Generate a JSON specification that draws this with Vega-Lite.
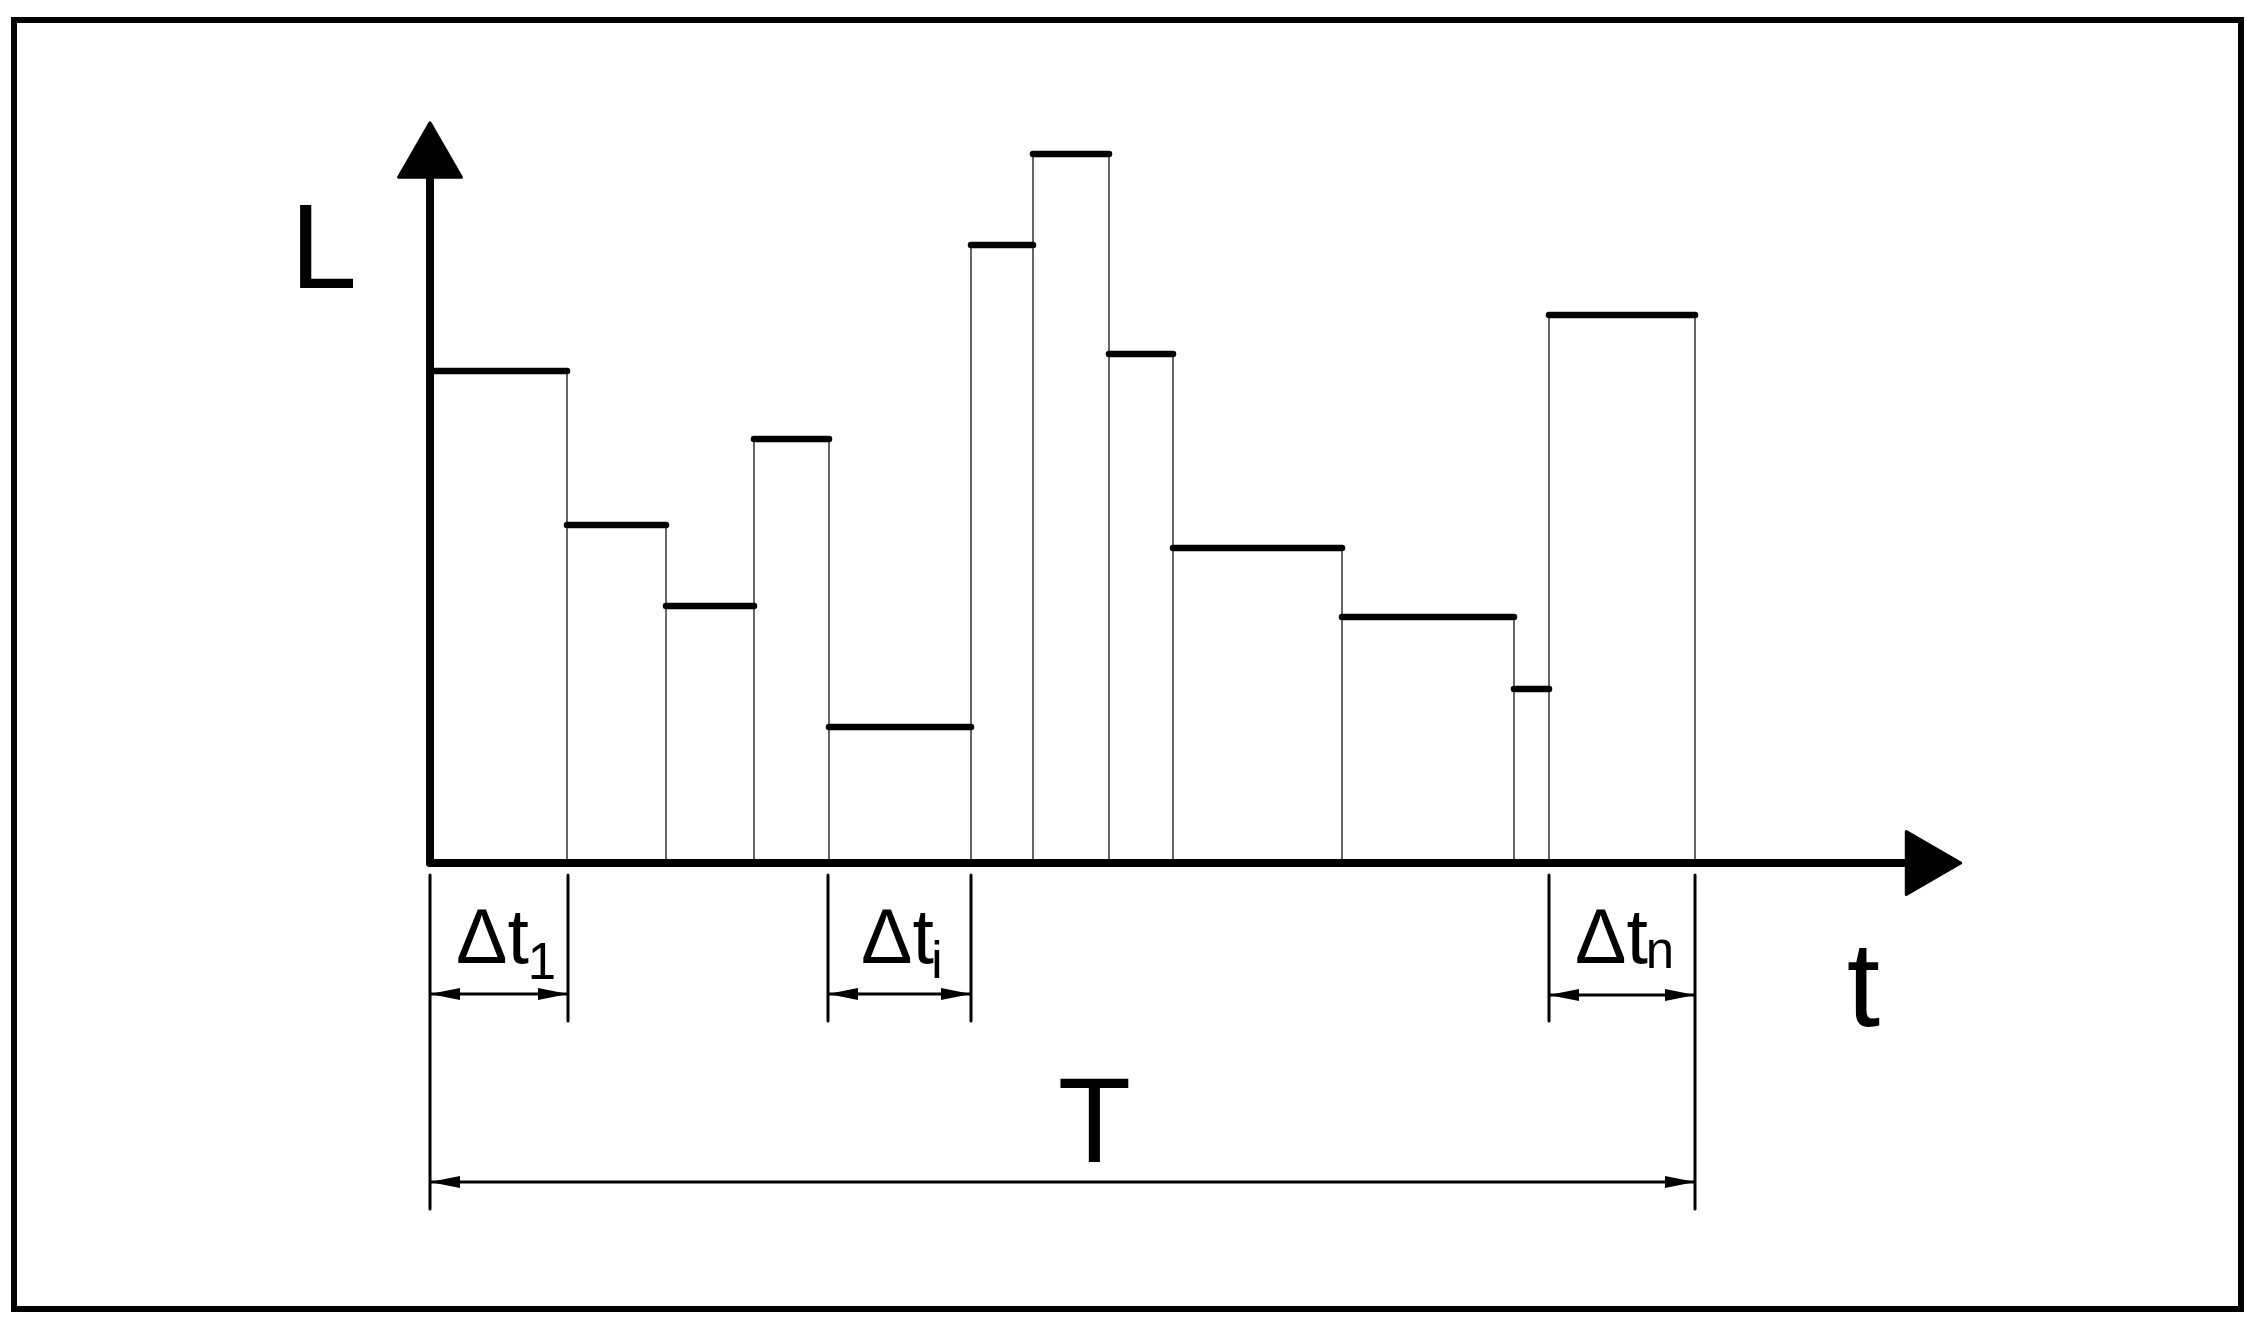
{
  "$schema": "https://vega.github.io/schema/vega-lite/v6.json",
  "width": 2256,
  "height": 1324,
  "autosize": {"type": "none"},
  "padding": 0,
  "background": "white",
  "config": {"view": {"stroke": null}},
  "datasets": {
    "frame": [{"t0": -41.6, "t1": 181.1, "L0": 84.3, "L1": -44.6}],
    "steps": [
      {"t0": 0, "t1": 13.7, "L": 49.2},
      {"t0": 13.7, "t1": 23.6, "L": 33.8},
      {"t0": 23.6, "t1": 32.4, "L": 25.7},
      {"t0": 32.4, "t1": 39.9, "L": 42.4},
      {"t0": 39.9, "t1": 54.1, "L": 13.6},
      {"t0": 54.1, "t1": 60.3, "L": 61.8},
      {"t0": 60.3, "t1": 67.9, "L": 70.9},
      {"t0": 67.9, "t1": 74.3, "L": 50.9},
      {"t0": 74.3, "t1": 91.2, "L": 31.5},
      {"t0": 91.2, "t1": 108.4, "L": 24.6},
      {"t0": 108.4, "t1": 111.9, "L": 17.4},
      {"t0": 111.9, "t1": 126.5, "L": 54.8}
    ],
    "bounds": [
      {"t": 13.7, "base": 0, "top": 49.2},
      {"t": 23.6, "base": 0, "top": 33.8},
      {"t": 32.4, "base": 0, "top": 42.4},
      {"t": 39.9, "base": 0, "top": 42.4},
      {"t": 54.1, "base": 0, "top": 61.8},
      {"t": 60.3, "base": 0, "top": 70.9},
      {"t": 67.9, "base": 0, "top": 70.9},
      {"t": 74.3, "base": 0, "top": 50.9},
      {"t": 91.2, "base": 0, "top": 31.5},
      {"t": 108.4, "base": 0, "top": 24.6},
      {"t": 111.9, "base": 0, "top": 54.8},
      {"t": 126.5, "base": 0, "top": 54.8}
    ],
    "axesV": [{"t": 0, "L0": 0, "L1": 68.4}],
    "axesH": [{"t0": 0, "t1": 147.4, "L": 0}],
    "axisArrowUp": [{"t": 0, "L": 71.3}],
    "axisArrowRight": [{"t": 150.35, "L": 0}],
    "ext": [
      {"t": 0, "L0": -1.2, "L1": -34.6},
      {"t": 13.8, "L0": -1.2, "L1": -15.8},
      {"t": 39.8, "L0": -1.2, "L1": -15.8},
      {"t": 54.1, "L0": -1.2, "L1": -15.8},
      {"t": 111.9, "L0": -1.2, "L1": -15.8},
      {"t": 126.5, "L0": -1.2, "L1": -34.6}
    ],
    "dims": [
      {"t0": 0, "t1": 13.8, "L": -13.1},
      {"t0": 39.8, "t1": 54.1, "L": -13.1},
      {"t0": 111.9, "t1": 126.5, "L": -13.2},
      {"t0": 0, "t1": 126.5, "L": -31.9}
    ],
    "tips": [
      {"t": 0, "L": -13.1, "ang": 0},
      {"t": 13.8, "L": -13.1, "ang": 180},
      {"t": 39.8, "L": -13.1, "ang": 0},
      {"t": 54.1, "L": -13.1, "ang": 180},
      {"t": 111.9, "L": -13.2, "ang": 0},
      {"t": 126.5, "L": -13.2, "ang": 180},
      {"t": 0, "L": -31.9, "ang": 0},
      {"t": 126.5, "L": -31.9, "ang": 180}
    ],
    "bigLabels": [
      {"t": -10.65, "L": 57.5, "label": "L"},
      {"t": 143.35, "L": -16.3, "label": "t"},
      {"t": 66.45, "L": -29.9, "label": "T"}
    ],
    "deltaLabels": [
      {"t": 2.6, "L": -10.0, "label": "Δt"},
      {"t": 43.1, "L": -10.0, "label": "Δt"},
      {"t": 114.5, "L": -10.0, "label": "Δt"}
    ],
    "subLabels": [
      {"t": 11.2, "L": -11.6, "label": "1"},
      {"t": 50.7, "L": -11.5, "label": "i"},
      {"t": 123.0, "L": -10.5, "label": "n"}
    ]
  },
  "layer": [
    {
      "data": {"name": "frame"},
      "mark": {"type": "rect", "filled": false, "stroke": "black", "strokeWidth": 6},
      "encoding": {
        "x": {"field": "t0", "type": "quantitative", "axis": null, "scale": {"domain": [-43, 182.6], "nice": false, "zero": false}},
        "x2": {"field": "t1"},
        "y": {"field": "L0", "type": "quantitative", "axis": null, "scale": {"domain": [-46.1, 86.3], "nice": false, "zero": false}},
        "y2": {"field": "L1"}
      }
    },
    {
      "data": {"name": "bounds"},
      "mark": {"type": "rule", "color": "black", "strokeWidth": 1.2},
      "encoding": {
        "x": {"field": "t", "type": "quantitative", "axis": null},
        "y": {"field": "base", "type": "quantitative", "axis": null},
        "y2": {"field": "top"}
      }
    },
    {
      "data": {"name": "steps"},
      "mark": {"type": "rule", "color": "black", "strokeWidth": 6.5, "strokeCap": "round"},
      "encoding": {
        "x": {"field": "t0", "type": "quantitative", "axis": null},
        "x2": {"field": "t1"},
        "y": {"field": "L", "type": "quantitative", "axis": null}
      }
    },
    {
      "data": {"name": "axesV"},
      "mark": {"type": "rule", "color": "black", "strokeWidth": 8, "strokeCap": "round"},
      "encoding": {
        "x": {"field": "t", "type": "quantitative", "axis": null},
        "y": {"field": "L0", "type": "quantitative", "axis": null},
        "y2": {"field": "L1"}
      }
    },
    {
      "data": {"name": "axesH"},
      "mark": {"type": "rule", "color": "black", "strokeWidth": 8, "strokeCap": "round"},
      "encoding": {
        "x": {"field": "t0", "type": "quantitative", "axis": null},
        "x2": {"field": "t1"},
        "y": {"field": "L", "type": "quantitative", "axis": null}
      }
    },
    {
      "data": {"name": "axisArrowUp"},
      "mark": {"type": "point", "shape": "triangle-up", "filled": true, "opacity": 1, "color": "black", "size": 3950, "stroke": "black", "strokeWidth": 3, "strokeJoin": "round"},
      "encoding": {
        "x": {"field": "t", "type": "quantitative", "axis": null},
        "y": {"field": "L", "type": "quantitative", "axis": null}
      }
    },
    {
      "data": {"name": "axisArrowRight"},
      "mark": {"type": "point", "shape": "triangle-right", "filled": true, "opacity": 1, "color": "black", "size": 3950, "stroke": "black", "strokeWidth": 3, "strokeJoin": "round"},
      "encoding": {
        "x": {"field": "t", "type": "quantitative", "axis": null},
        "y": {"field": "L", "type": "quantitative", "axis": null}
      }
    },
    {
      "data": {"name": "ext"},
      "mark": {"type": "rule", "color": "black", "strokeWidth": 3, "strokeCap": "round"},
      "encoding": {
        "x": {"field": "t", "type": "quantitative", "axis": null},
        "y": {"field": "L0", "type": "quantitative", "axis": null},
        "y2": {"field": "L1"}
      }
    },
    {
      "data": {"name": "dims"},
      "mark": {"type": "rule", "color": "black", "strokeWidth": 3},
      "encoding": {
        "x": {"field": "t0", "type": "quantitative", "axis": null},
        "x2": {"field": "t1"},
        "y": {"field": "L", "type": "quantitative", "axis": null}
      }
    },
    {
      "data": {"name": "tips"},
      "mark": {"type": "point", "shape": "M0,0L2,-0.4L2,0.4Z", "filled": true, "opacity": 1, "color": "black", "size": 900},
      "encoding": {
        "x": {"field": "t", "type": "quantitative", "axis": null},
        "y": {"field": "L", "type": "quantitative", "axis": null},
        "angle": {"field": "ang", "type": "quantitative", "scale": null}
      }
    },
    {
      "data": {"name": "bigLabels"},
      "mark": {"type": "text", "font": "Liberation Sans", "fontSize": 120, "color": "black", "align": "center", "baseline": "alphabetic"},
      "encoding": {
        "x": {"field": "t", "type": "quantitative", "axis": null},
        "y": {"field": "L", "type": "quantitative", "axis": null},
        "text": {"field": "label"}
      }
    },
    {
      "data": {"name": "deltaLabels"},
      "mark": {"type": "text", "font": "Liberation Sans", "fontSize": 77, "color": "black", "align": "left", "baseline": "alphabetic"},
      "encoding": {
        "x": {"field": "t", "type": "quantitative", "axis": null},
        "y": {"field": "L", "type": "quantitative", "axis": null},
        "text": {"field": "label"}
      }
    },
    {
      "data": {"name": "subLabels"},
      "mark": {"type": "text", "font": "Liberation Sans", "fontSize": 51, "color": "black", "align": "center", "baseline": "alphabetic"},
      "encoding": {
        "x": {"field": "t", "type": "quantitative", "axis": null},
        "y": {"field": "L", "type": "quantitative", "axis": null},
        "text": {"field": "label"}
      }
    }
  ]
}
